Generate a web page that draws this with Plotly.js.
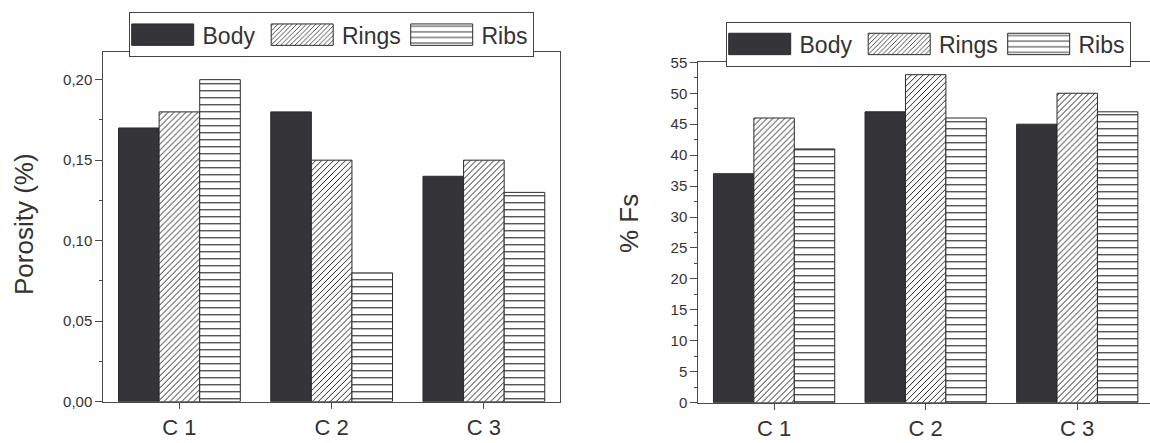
<!DOCTYPE html>
<html><head><meta charset="utf-8">
<script src="https://cdn.plot.ly/plotly-3.0.1.min.js"></script>
<style>html,body{margin:0;padding:0;background:#fff}#chart{width:1150px;height:443px}</style>
</head><body><div id="chart"></div>
<script>
// ---- data ----
const categories = ['C 1', 'C 2', 'C 3'];
const seriesNames = ['Body', 'Rings', 'Ribs'];
const porosityBody = [0.17, 0.18, 0.14];
const porosityRings = [0.18, 0.15, 0.15];
const porosityRibs = [0.20, 0.08, 0.13];
const fsBody = [37, 47, 45];
const fsRings = [46, 53, 50];
const fsRibs = [41, 46, 47];
const porosityTitle = 'Porosity (%)';
const fsTitle = '% Fs';

// ---- layout helpers ----
const W = 1150, H = 443;
const px = x => x / W;
const py = y => 1 - y / H;
const FONT = 'Liberation Sans, Arial, Helvetica, sans-serif';
const AX = '#4a4a4a';

const styles = [
  {color: '#353539', line: {color: '#2a2a2a', width: 1}},
  {color: '#ffffff', line: {color: '#2a2a2a', width: 1},
   pattern: {shape: '/', fgcolor: '#111111', bgcolor: '#ffffff', size: 4.2, solidity: 0.22}},
  {color: '#ffffff', line: {color: '#2a2a2a', width: 1},
   pattern: {shape: '-', fgcolor: '#111111', bgcolor: '#ffffff', size: 7, solidity: 0.15}}
];

function mk(name, vals, i, xa, ya, leg) {
  const t = {type: 'bar', name: name, x: categories, y: vals, xaxis: xa, yaxis: ya,
    legend: leg, marker: styles[i], hoverinfo: 'none'};
  if (i === 2) t.legendwidth = 46;
  return t;
}

const data = [
  mk(seriesNames[0], porosityBody, 0, 'x', 'y', 'legend'),
  mk(seriesNames[1], porosityRings, 1, 'x', 'y', 'legend'),
  mk(seriesNames[2], porosityRibs, 2, 'x', 'y', 'legend'),
  mk(seriesNames[0], fsBody, 0, 'x2', 'y2', 'legend2'),
  mk(seriesNames[1], fsRings, 1, 'x2', 'y2', 'legend2'),
  mk(seriesNames[2], fsRibs, 2, 'x2', 'y2', 'legend2')
];

function xax(domain, range, anchor) {
  return {domain: domain, range: range, type: 'category', anchor: anchor,
    showline: true, mirror: true, linecolor: AX, linewidth: 1,
    ticks: 'outside', ticklen: 6, tickwidth: 1, tickcolor: AX,
    tickfont: {size: 22, family: FONT, color: '#333'},
    showgrid: false, zeroline: false, fixedrange: true};
}
function yax(domain, range, dtick, fmt, anchor) {
  return {domain: domain, range: range, anchor: anchor, tick0: 0, dtick: dtick, tickformat: fmt,
    showline: true, mirror: true, linecolor: AX, linewidth: 1,
    ticks: 'outside', ticklen: 7, tickwidth: 1, tickcolor: AX,
    minor: {dtick: dtick / 2, ticks: 'outside', ticklen: 3.5, tickwidth: 1, tickcolor: AX, showgrid: false},
    tickfont: {size: 15, family: FONT, color: '#333'},
    showgrid: false, zeroline: false, fixedrange: true};
}
function leg(x, y) {
  return {x: px(x), xanchor: 'left', y: py(y), yanchor: 'top', orientation: 'h',
    bordercolor: '#444', borderwidth: 1, bgcolor: '#ffffff',
    font: {size: 23, family: FONT, color: '#333'},
    itemwidth: 63, entrywidth: 61.5, entrywidthmode: 'pixels',
    traceorder: 'normal', itemclick: false, itemdoubleclick: false};
}

const layout = {
  width: W, height: H, margin: {l: 0, r: 0, t: 0, b: 0},
  paper_bgcolor: '#ffffff', plot_bgcolor: '#ffffff',
  font: {family: FONT, color: '#333'},
  separators: ',.',
  barmode: 'group', bargap: 0.2, bargroupgap: 0,
  showlegend: true,
  xaxis: xax([px(103.3), px(560)], [-0.5, 2.5], 'y'),
  yaxis: yax([py(401.7), py(52.3)], [0, 0.217], 0.05, '.2f', 'x'),
  xaxis2: xax([px(698.3), 1], [-0.5, 2.48], 'y2'),
  yaxis2: yax([py(402.7), py(62.3)], [0, 55], 5, 'd', 'x2'),
  legend: leg(128.5, 12.2),
  legend2: leg(725.5, 21.5),
  annotations: [
    {text: porosityTitle, xref: 'paper', yref: 'paper', x: px(24), y: py(224),
     textangle: -90, showarrow: false, xanchor: 'center', yanchor: 'middle',
     font: {size: 26, family: FONT, color: '#333'}},
    {text: fsTitle, xref: 'paper', yref: 'paper', x: px(629), y: py(224),
     textangle: -90, showarrow: false, xanchor: 'center', yanchor: 'middle',
     font: {size: 26, family: FONT, color: '#333'}}
  ]
};

Plotly.newPlot('chart', data, layout, {staticPlot: true, displayModeBar: false}).then(function (gd) {
  gd.querySelectorAll('g.legendpoints path').forEach(function (p) {
    p.setAttribute('d', 'M-34.3,-10.7H27.7V10.7H-34.3Z');
  });
});
</script>
</body></html>
